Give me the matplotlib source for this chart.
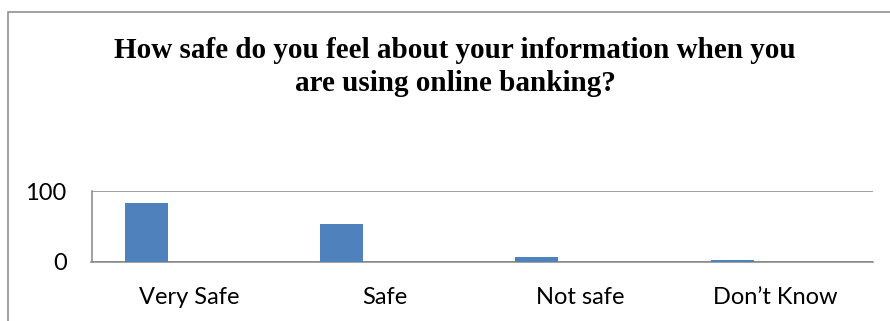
import numpy as np
import matplotlib.pyplot as plt
from matplotlib.patches import Rectangle

# survey answers (percent of respondents)
categories = ['Very Safe', 'Safe', 'Not safe', 'Don\u2019t Know']
values = [83, 54, 7, 3]
y_ticks = [0, 100]

title = 'How safe do you feel about your information when you\nare using online banking?'

bar_color = '#4F81BD'
line_color = '#868686'

W, H = 890, 321
fig = plt.figure(figsize=(W / 100, H / 100), dpi=100)

# chart frame, runs off the right and bottom edge
fig.patches.append(Rectangle((8 / W, -0.1), 1.1, 1 - 12 / H + 0.1,
                             transform=fig.transFigure, fill=False,
                             edgecolor=line_color, linewidth=1.1))

ax = fig.add_axes([91.5 / W, (H - 262) / H, (873 - 91.5) / W, 71 / H])

x = np.arange(len(categories))
bar_w = 0.22
ax.bar(x - bar_w, values, width=bar_w, color=bar_color, align='center', zorder=3)

ax.set_xlim(-0.5, len(categories) - 0.5)
ax.set_ylim(0, 100)
ax.set_yticks(y_ticks)
ax.set_xticks(x)
ax.set_xticklabels(categories, fontsize=17, family='Lato')
ax.set_yticklabels([str(v) for v in y_ticks], fontsize=17, family='Lato')
ax.tick_params(length=0)
ax.tick_params(axis='x', pad=18)
ax.tick_params(axis='y', pad=18)

ax.grid(axis='y', color=line_color, linewidth=1.1, zorder=0)
for side in ['top', 'right']:
    ax.spines[side].set_visible(False)
for side in ['left', 'bottom']:
    ax.spines[side].set_color(line_color)
    ax.spines[side].set_linewidth(1.1)

fig.text(455 / W, 1 - 37 / H, title, ha='center', va='top',
         fontsize=21, fontweight='bold', family='Liberation Serif',
         linespacing=1.3)

fig.savefig('out.png', dpi=100)
